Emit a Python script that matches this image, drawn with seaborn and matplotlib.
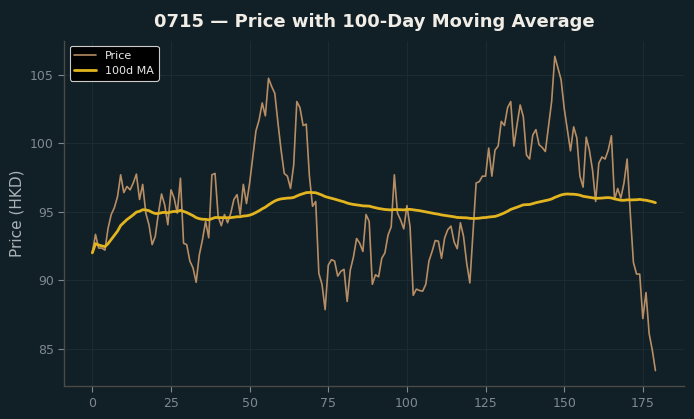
import numpy as np
import pandas as pd
import matplotlib
matplotlib.use("Agg")
import matplotlib.pyplot as plt
import seaborn as sns

# Daily closing prices (HKD)
price = [
    92.0, 93.35, 92.35, 92.35, 92.2, 93.8, 94.8, 95.3, 96.1, 97.7,
    96.4, 96.85, 96.6, 97.1, 97.75, 95.9, 97.0, 94.9, 94.05, 92.6,
    93.2, 94.9, 96.3, 95.5, 94.05, 96.6, 96.0, 94.9, 97.45, 92.7,
    92.6, 91.4, 90.9, 89.85, 91.85, 92.95, 94.3, 93.1, 97.7, 97.8,
    94.65, 93.98, 94.8, 94.2, 94.9, 95.9, 96.25, 94.8, 97.0, 95.6,
    97.1, 99.0, 100.9, 101.7, 102.95, 102.0, 104.75, 104.15, 103.65, 101.5,
    99.5, 97.8, 97.6, 96.7, 98.4, 103.05, 102.6, 101.3, 101.4, 97.6,
    95.4, 95.75, 90.5, 89.7, 87.85, 91.1, 91.5, 91.4, 90.3, 90.65,
    90.8, 88.45, 90.75, 91.7, 93.05, 92.7, 92.1, 94.8, 94.3, 89.7,
    90.4, 90.25, 91.6, 92.0, 93.3, 93.9, 97.7, 94.9, 94.4, 93.75,
    95.45, 93.9, 88.9, 89.35, 89.25, 89.2, 89.7, 91.4, 92.1, 92.9,
    92.85, 91.6, 93.1, 93.7, 93.95, 92.8, 92.3, 94.2, 93.2, 91.25,
    89.8, 93.4, 97.1, 97.2, 97.6, 97.6, 99.65, 97.6, 99.5, 99.8,
    101.6, 101.3, 102.6, 103.05, 99.8, 101.35, 102.8, 101.95, 99.15, 98.85,
    100.6, 101.0, 99.9, 99.7, 99.4, 101.2, 103.05, 106.35, 105.5, 104.65,
    102.55, 101.0, 99.45, 101.2, 100.4, 97.6, 96.8, 100.45, 99.5, 98.05,
    95.75, 98.55, 99.0, 98.85, 99.5, 100.55, 95.9, 96.7, 96.0, 97.1,
    98.85, 94.9, 91.3, 90.45, 90.45, 87.2, 89.1, 86.1, 84.9, 83.4,
]
day = list(range(len(price)))

df = pd.DataFrame({"day": day, "price": price})
df["ma100"] = df["price"].rolling(100, min_periods=1).mean()

bg = "#111f26"
sns.set_theme(style="dark")
plt.rcParams["font.family"] = ["DejaVu Sans"]

fig, ax = plt.subplots(figsize=(6.94, 4.19), dpi=100)
fig.patch.set_facecolor(bg)
ax.set_facecolor(bg)
fig.subplots_adjust(left=0.0925, right=0.985, top=0.903, bottom=0.078)

sns.lineplot(data=df, x="day", y="price", ax=ax, color="#c99a6b",
             linewidth=1.2, alpha=0.9, label="Price")
sns.lineplot(data=df, x="day", y="ma100", ax=ax, color="#e2b420",
             linewidth=2.0, label="100d MA")

ax.set_xticks([0, 25, 50, 75, 100, 125, 150, 175])
ax.set_yticks([85, 90, 95, 100, 105])
ax.grid(True, color="#1b2b32", linewidth=0.8)
ax.set_xlabel("")
ax.set_ylabel("Price (HKD)", color="#a9b2b6", fontsize=11)
ax.set_title("0715 \u2014 Price with 100-Day Moving Average",
             color="#f0ede6", fontsize=13, fontweight="bold", pad=10)
ax.tick_params(colors="#7f8a8f", labelsize=9, length=4, width=0.8,
               bottom=True, left=True)
for side in ["top", "right"]:
    ax.spines[side].set_visible(False)
for side in ["left", "bottom"]:
    ax.spines[side].set_color("#4a4a48")
    ax.spines[side].set_linewidth(1.0)

leg = ax.legend(loc="upper left", fontsize=8, facecolor="black",
                edgecolor="#cccccc", framealpha=1.0, labelcolor="#e8e8e8")
leg.get_frame().set_linewidth(0.8)

fig.savefig("out.png", dpi=100, facecolor=bg)
